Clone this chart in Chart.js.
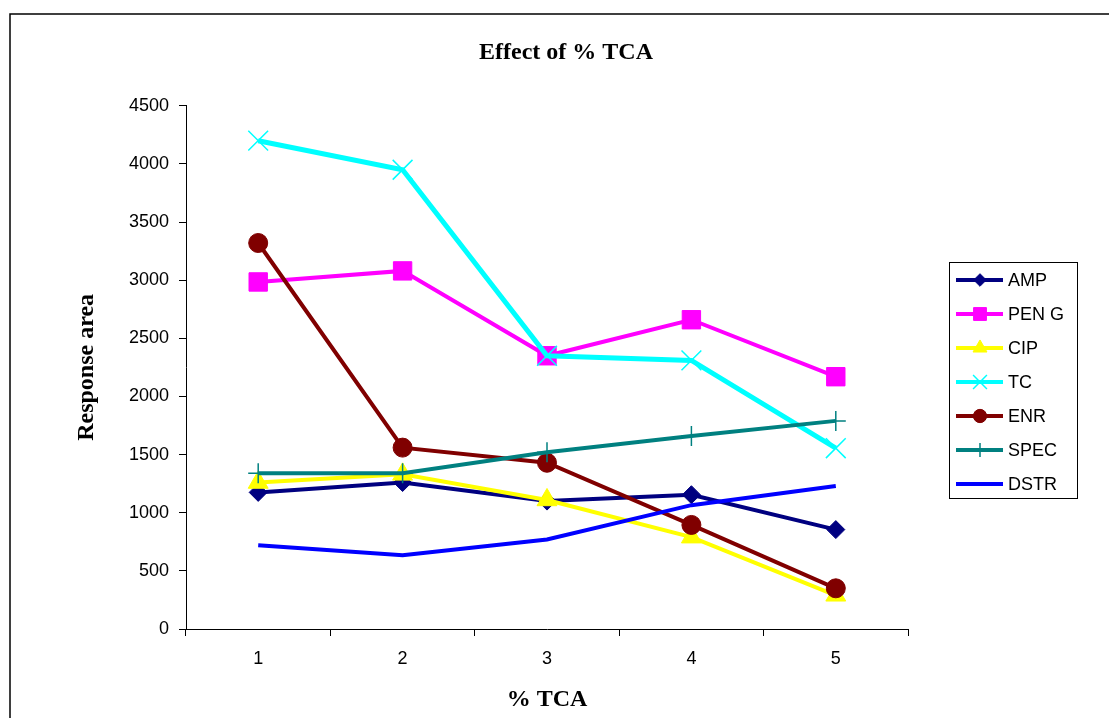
<!DOCTYPE html>
<html lang="en">
  <head>
    <meta charset="utf-8" />
    <title>Effect of % TCA</title>
    <style>
      * {
        margin: 0;
        padding: 0;
      }
      body {
        background: white;
      }
      .chartBox {
        width: 1109px;
        height: 718px;
      }
    </style>
  </head>
  <body>
    <div class="chartBox">
      <canvas id="myChart"></canvas>
    </div>

    <script src="https://cdn.jsdelivr.net/npm/chart.js"></script>

    <script>
      // data block
      const labels = ["1", "2", "3", "4", "5"];
      const yTicks = [0, 500, 1000, 1500, 2000, 2500, 3000, 3500, 4000, 4500];

      const amp = [1175, 1260, 1100, 1155, 855];
      const penG = [2985, 3080, 2350, 2660, 2170];
      const cip = [1260, 1330, 1110, 790, 290];
      const tc = [4200, 3950, 2350, 2310, 1555];
      const enr = [3320, 1560, 1430, 895, 350];
      const spec = [1340, 1340, 1520, 1660, 1790];
      const dstr = [720, 635, 770, 1065, 1230];

      // one helper so every series looks the same way
      function series(label, values, color, style, radius, width, order) {
        return {
          label: label,
          data: values,
          borderColor: color,
          backgroundColor: color,
          borderWidth: width,
          pointStyle: style,
          pointRadius: radius,
          pointBackgroundColor: color,
          pointBorderColor: color,
          pointBorderWidth: style === "crossRot" || style === "cross" ? 1.5 : 1,
          tension: 0,
          order: order,
        };
      }

      const datasets = [
        series("AMP", amp, "#000080", "rectRot", 9, 4, 7),
        series("PEN G", penG, "#ff00ff", "rect", 13, 4, 6),
        series("CIP", cip, "#ffff00", "triangle", 11.5, 4, 5),
        series("TC", tc, "#00ffff", "crossRot", 14, 5, 4),
        series("ENR", enr, "#800000", "circle", 9.5, 4, 3),
        series("SPEC", spec, "#008080", "cross", 10, 4, 2),
        series("DSTR", dstr, "#0000ff", false, 0, 4, 1),
      ];

      // frame round the whole chart (left and top edges only are visible)
      const frame = {
        id: "frame",
        beforeDraw(chart) {
          const { ctx } = chart;
          ctx.save();
          ctx.strokeStyle = "#000";
          ctx.lineWidth = 1.5;
          ctx.beginPath();
          ctx.moveTo(10, 718);
          ctx.lineTo(10, 14);
          ctx.lineTo(1109, 14);
          ctx.stroke();
          ctx.restore();
        },
        // move the title so it is centred like the original
        afterLayout(chart) {
          if (chart.titleBlock) {
            chart.titleBlock.left = 23;
            chart.titleBlock.right = 1109;
          }
        },
      };

      // boxed legend on the right
      const sideLegend = {
        id: "sideLegend",
        afterDraw(chart) {
          const { ctx } = chart;
          ctx.save();
          ctx.strokeStyle = "#000";
          ctx.lineWidth = 1;
          ctx.strokeRect(949.5, 262.5, 128, 236);
          ctx.font = '18px "Liberation Sans"';
          ctx.textBaseline = "middle";
          chart.data.datasets.forEach((ds, i) => {
            const y = 280 + i * 34;
            ctx.strokeStyle = ds.borderColor;
            ctx.lineWidth = 4;
            ctx.beginPath();
            ctx.moveTo(956, y);
            ctx.lineTo(1003, y);
            ctx.stroke();
            if (ds.pointRadius > 0) {
              ctx.fillStyle = ds.pointBackgroundColor;
              ctx.strokeStyle = ds.pointBorderColor;
              ctx.lineWidth = ds.pointBorderWidth;
              Chart.helpers.drawPoint(
                ctx,
                {
                  pointStyle: ds.pointStyle,
                  radius: ds.pointRadius * 0.7,
                  borderWidth: ds.pointBorderWidth,
                  rotation: 0,
                },
                980,
                y
              );
            }
            ctx.fillStyle = "#000";
            ctx.fillText(ds.label, 1008, y + 1);
          });
          ctx.restore();
        },
      };

      const tickFont = { family: "Liberation Sans", size: 18 };
      const titleFont = { family: "Liberation Serif", size: 24, weight: "bold" };

      // config block
      const config = {
        type: "line",
        data: { labels: labels, datasets: datasets },
        options: {
          responsive: true,
          maintainAspectRatio: false,
          animation: false,
          events: [],
          layout: { padding: { left: 0, right: 201, top: 0, bottom: 0 } },
          plugins: {
            legend: { display: false },
            tooltip: { enabled: false },
            title: {
              display: true,
              text: "Effect of % TCA",
              color: "#000",
              font: titleFont,
              padding: { top: 38, bottom: 39 },
            },
          },
          scales: {
            x: {
              offset: true,
              grid: {
                offset: true,
                drawOnChartArea: false,
                drawTicks: true,
                tickLength: 7,
                color: "#000",
              },
              border: { display: true, color: "#000", width: 1 },
              ticks: { color: "#000", font: tickFont, padding: 12 },
              title: {
                display: true,
                text: "% TCA",
                color: "#000",
                font: titleFont,
                padding: { top: 0, bottom: 4 },
              },
              afterFit(scale) {
                scale.height = 89;
              },
            },
            y: {
              min: 0,
              max: 4500,
              afterBuildTicks(scale) {
                scale.ticks = yTicks.map((v) => ({ value: v }));
              },
              grid: {
                drawOnChartArea: false,
                drawTicks: true,
                tickLength: 7,
                color: "#000",
              },
              border: { display: true, color: "#000", width: 1 },
              ticks: {
                color: "#000",
                font: tickFont,
                padding: 10,
                // plain numbers, no thousands separator
                callback: (value) => String(value),
              },
              title: {
                display: true,
                text: "Response area",
                color: "#000",
                font: titleFont,
                padding: { top: 72, bottom: 0 },
              },
              afterFit(scale) {
                scale.width = 186;
              },
            },
          },
        },
        plugins: [frame, sideLegend],
      };

      // init render block
      const myChart = new Chart(document.getElementById("myChart"), config);
    </script>
  </body>
</html>
